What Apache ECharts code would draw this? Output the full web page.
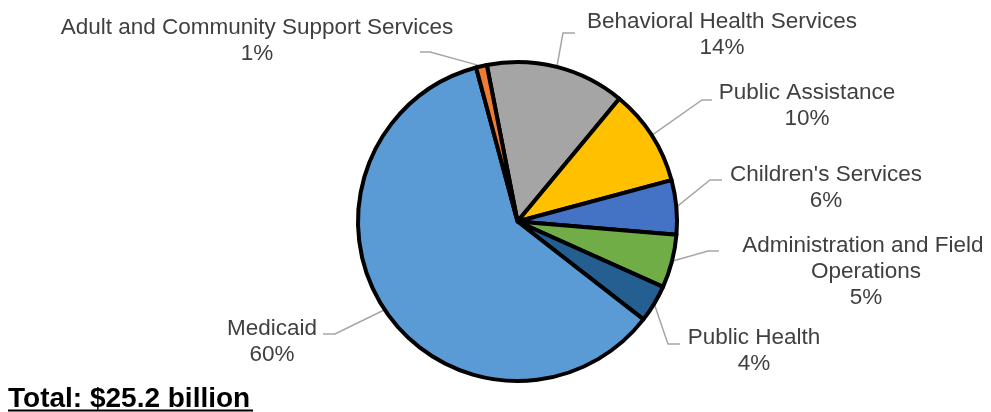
<!DOCTYPE html>
<html>
<head>
<meta charset="utf-8">
<script src="https://cdn.jsdelivr.net/npm/echarts@6/dist/echarts.min.js"></script>
<style>
html,body{margin:0;padding:0;background:#fff;}
#chart{width:991px;height:412px;}
</style>
</head>
<body>
<div id="chart"></div>
<script>
// Data (share of total, %)
const categories = [
  "Behavioral Health Services",
  "Public Assistance",
  "Children's Services",
  "Administration and Field Operations",
  "Public Health",
  "Medicaid",
  "Adult and Community Support Services"
];
const shares = [14.1, 9.8, 5.5, 5.4, 3.8, 60.3, 1.1];
const totalText = "Total: $25.2 billion";

// Styling
const colors = ["#A5A5A5", "#FFC000", "#4472C4", "#70AD47", "#255E91", "#5B9BD5", "#ED7D31"];
const labelCenters = [[722, 35], [807, 106], [826, 188], [866, 272], [754, 351], [272, 342], [257, 41]];
const leaderBends = [
  [[563, 33], [575, 33]],
  [[702, 100], [712, 100]],
  [[710, 180], [722, 180]],
  [[708, 251], [719, 251]],
  [[668, 344], [680, 344]],
  [[335, 334], [323, 334]],
  [[430, 52], [420, 52]]
];
const labelWidths = [null, null, null, 255, null, null, null];

const chart = echarts.init(document.getElementById('chart'), null, {renderer: 'canvas'});
const data = categories.map((c, i) => {
  const item = {name: c, value: shares[i], itemStyle: {color: colors[i]}};
  if (labelWidths[i]) item.label = {width: labelWidths[i], overflow: 'break'};
  return item;
});

chart.setOption({
  animation: false,
  graphic: [
    {type: 'text', x: 8, y: 399, style: {text: totalText, font: 'bold 28px "Liberation Sans", Arial, sans-serif', fill: '#000', verticalAlign: 'middle'}},
    {type: 'rect', shape: {x: 8, y: 409.5, width: 245, height: 2}, style: {fill: '#000'}}
  ],
  series: [{
    type: 'pie',
    center: [517.5, 221.5],
    radius: 159.5,
    startAngle: 101.1,
    clockwise: true,
    avoidLabelOverlap: false,
    itemStyle: {borderColor: '#000', borderWidth: 4},
    label: {
      show: true,
      position: 'outside',
      fontFamily: '"Liberation Sans", Arial, sans-serif',
      fontSize: 22.5,
      lineHeight: 26,
      color: '#404040',
      align: 'center',
      formatter: p => p.name + '\n' + Math.round(p.value) + '%'
    },
    labelLine: {show: true, length: 10, length2: 10, lineStyle: {color: '#A6A6A6', width: 1.5}},
    labelLayout: function (params) {
      const i = params.dataIndex;
      const start = params.labelLinePoints ? params.labelLinePoints[0] : null;
      const out = {
        x: labelCenters[i][0],
        y: labelCenters[i][1],
        align: 'center',
        verticalAlign: 'middle'
      };
      if (start) out.labelLinePoints = [start, leaderBends[i][0], leaderBends[i][1]];
      return out;
    },
    emphasis: {disabled: true},
    data: data
  }]
});
</script>
</body>
</html>
